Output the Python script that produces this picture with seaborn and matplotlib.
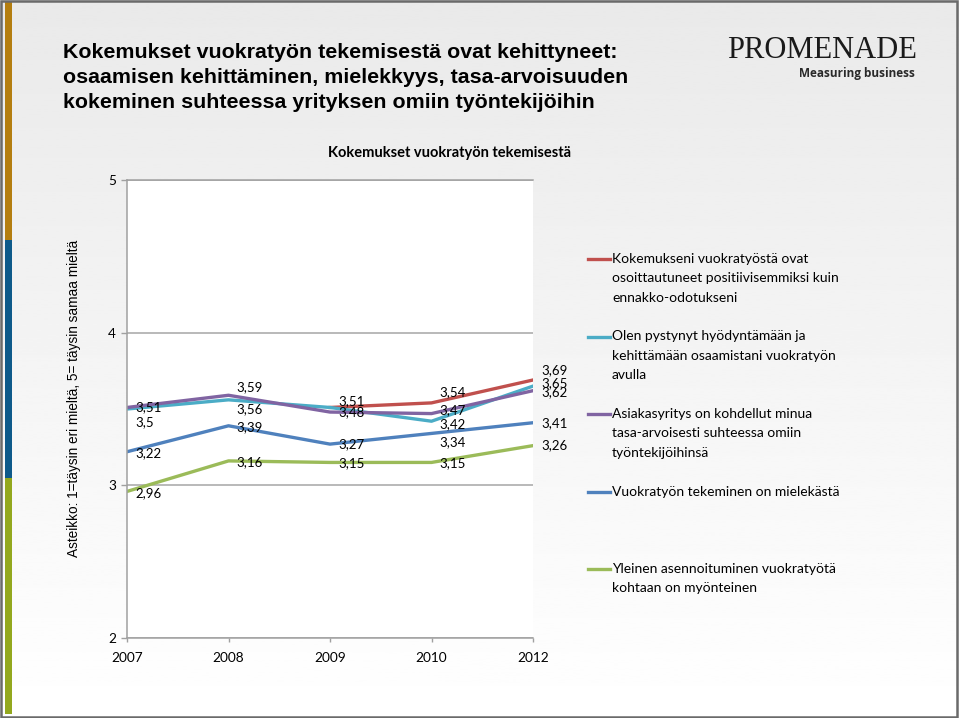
"""Finnish slide: line chart of temp-work experience scores 2007-2012."""

import matplotlib

matplotlib.use("Agg")

import matplotlib.pyplot as plt
import numpy as np
import pandas as pd
import seaborn as sns
from matplotlib.lines import Line2D
from matplotlib.patches import Rectangle

# --- data ------------------------------------------------------------------
years = ["2007", "2008", "2009", "2010", "2012"]
series_names = [
    "Kokemukseni vuokratyöstä ovat\nosoittautuneet positiivisemmiksi kuin\nennakko-odotukseni",
    "Olen pystynyt hyödyntämään ja\nkehittämään osaamistani vuokratyön\navulla",
    "Asiakasyritys on kohdellut minua\ntasa-arvoisesti suhteessa omiin\ntyöntekijöihinsä",
    "Vuokratyön tekeminen on mielekästä",
    "Yleinen asennoituminen vuokratyötä\nkohtaan on myönteinen",
]
kokemukset = [np.nan, np.nan, 3.51, 3.54, 3.69]
osaaminen = [3.5, 3.56, 3.51, 3.42, 3.65]
tasa_arvo = [3.51, 3.59, 3.48, 3.47, 3.62]
mielekas = [3.22, 3.39, 3.27, 3.34, 3.41]
asennoituminen = [2.96, 3.16, 3.15, 3.15, 3.26]
y_ticks = [2, 3, 4, 5]

title_lines = [
    "Kokemukset vuokratyön tekemisestä ovat kehittyneet:",
    "osaamisen kehittäminen, mielekkyys, tasa-arvoisuuden",
    "kokeminen suhteessa yrityksen omiin työntekijöihin",
]
chart_title = "Kokemukset vuokratyön tekemisestä"
y_label = "Asteikko: 1=täysin eri mieltä, 5= täysin samaa mieltä"

colors = ["#C0504D", "#4BACC6", "#8064A2", "#4F81BD", "#9BBB59"]
# vertical nudges (px, up is positive) for the data labels; None = hidden
label_nudges = [
    [None, None, 6, 11, 10],
    [-13, -9, None, -3, 3],
    [0, 8, 0, 3, -1],
    [-1, -1, 0, -9, 0],
    [-2, -1, -1, -1, 0],
]

values = [kokemukset, osaaminen, tasa_arvo, mielekas, asennoituminen]
df = pd.concat(
    [
        pd.DataFrame({"year": years, "score": vals, "series": name})
        for name, vals in zip(series_names, values)
    ],
    ignore_index=True,
)
df["pos"] = df["year"].map({y: i for i, y in enumerate(years)})

plt.rcParams["font.family"] = ["Lato", "DejaVu Sans"]

W, H = 959, 718
fig = plt.figure(figsize=(W / 100, H / 100), dpi=100)


def fx(px):
    return px / W


def fy(px):
    return 1 - px / H


# slide background gradient
bg = fig.add_axes([0, 0, 1, 1], zorder=-10)
grad = np.linspace(0.915, 1.0, 256).reshape(-1, 1)
bg.imshow(grad, aspect="auto", cmap="gray", vmin=0, vmax=1, extent=[0, 1, 0, 1])
bg.set_axis_off()

# coloured stripe on the left edge
for top, bottom, col in [(2, 240, "#B47E10"), (240, 478, "#0E5A8A"), (478, 714, "#93A81E")]:
    fig.add_artist(
        Rectangle((fx(5), fy(bottom)), fx(7), (bottom - top) / H,
                  transform=fig.transFigure, color=col, lw=0)
    )
fig.add_artist(
    Rectangle((0.001, 0.002), 0.997, 0.996, transform=fig.transFigure,
              fill=False, edgecolor="#6a6a6a", lw=1.8)
)

# --- main chart --------------------------------------------------------------
ax = fig.add_axes([fx(127), fy(638), fx(533 - 127), (638 - 180) / H])
ax.set_facecolor("white")
sns.lineplot(
    data=df, x="pos", y="score", hue="series", hue_order=series_names,
    palette=colors, linewidth=2.4, legend=False, sort=False, ax=ax,
)
ax.set_xlim(0, len(years) - 1)
ax.set_ylim(2, 5)
ax.set_xticks(range(len(years)), years)
ax.set_yticks(y_ticks)
ax.set_xlabel("")
ax.set_ylabel("")
ax.yaxis.grid(True, color="#a6a6a6", linewidth=1.1)
ax.set_axisbelow(True)
for side in ["left", "bottom", "top"]:
    ax.spines[side].set_color("#a0a0a0")
    ax.spines[side].set_linewidth(1.1)
ax.spines["right"].set_visible(False)
ax.tick_params(axis="y", length=4, width=1, color="#a0a0a0", pad=4, labelsize=9.8)
ax.tick_params(axis="x", length=3, width=1, color="#a0a0a0", pad=7, labelsize=9.8)

# data labels to the right of each point
for vals, nudges in zip(values, label_nudges):
    for i, (v, dy) in enumerate(zip(vals, nudges)):
        if dy is None or np.isnan(v):
            continue
        ax.annotate(
            f"{v:g}".replace(".", ","), (i, v), xytext=(5.8, dy * 0.72),
            textcoords="offset points", va="center", ha="left",
            fontsize=9.5, color="black", annotation_clip=False,
        )

# --- legend drawn at the right -------------------------------------------
for k, (name, col) in enumerate(zip(series_names, colors)):
    y0 = 259 + 77.5 * k
    fig.add_artist(
        Line2D([fx(588), fx(610)], [fy(y0), fy(y0)], transform=fig.transFigure,
               color=col, linewidth=2.4)
    )
    for j, line in enumerate(name.split("\n")):
        fig.text(fx(612), fy(y0 + 19.3 * j), line, fontsize=10, va="center", ha="left")

# --- titles and logo ---------------------------------------------------------
for j, line in enumerate(title_lines):
    fig.text(fx(63), fy(52 + 25.5 * j), line, fontsize=15.4, fontweight="bold",
             family=["Liberation Sans"], va="center", ha="left")
fig.text(fx(450), fy(153), chart_title, fontsize=10.5, fontweight="bold",
         va="center", ha="center")
fig.text(fx(74), fy(398), y_label, rotation=90, fontsize=9.8,
         family=["Liberation Sans"], va="center", ha="center")
fig.text(fx(822), fy(50), "PROMENADE", fontsize=22, family=["Liberation Serif"],
         color="#1a1a1a", va="center", ha="center")
fig.text(fx(915), fy(74), "Measuring business", fontsize=8.5, fontweight="bold",
         family=["Open Sans"], color="#2a2a2a", va="center", ha="right")

fig.savefig("out.png", dpi=100)
